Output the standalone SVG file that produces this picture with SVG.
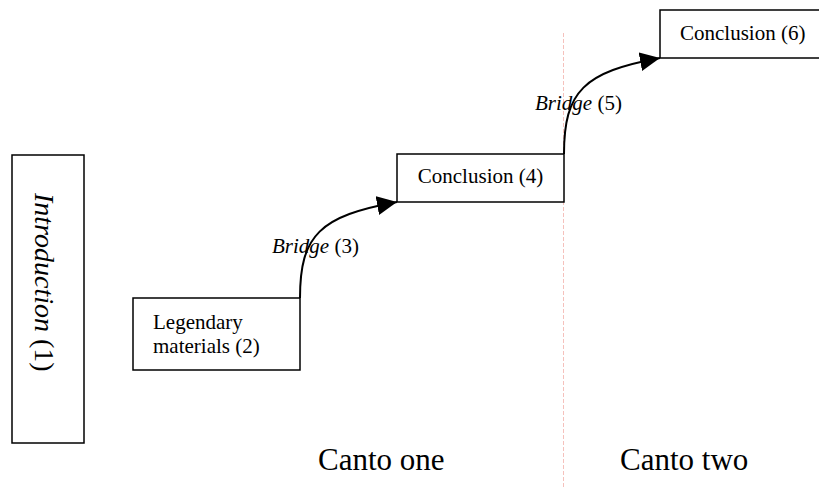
<svg xmlns="http://www.w3.org/2000/svg" width="819" height="489" viewBox="0 0 819 489">
<style>
.box{fill:#fff;stroke:#000;stroke-width:1.5}
text{font-family:'Liberation Serif','Times New Roman','DejaVu Serif',serif;fill:#000}
.edge{fill:none;stroke:#000;stroke-width:2}
</style>
<defs>
<marker id="arr" markerWidth="22" markerHeight="20" refX="20" refY="9.5" orient="auto" markerUnits="userSpaceOnUse">
<path d="M0,0 L20,9.5 L0,19 Z" fill="#000"/>
</marker>
</defs>
<rect width="819" height="489" fill="#fff"/>
<line x1="563.5" y1="33" x2="563.5" y2="489" stroke="#f2a8a0" stroke-width="1" stroke-dasharray="4,2" opacity="0.7"/>
<g id="n1">
<rect class="box" x="12" y="155" width="72" height="288"/>
<text font-family="Liberation Serif, serif" font-size="28" transform="translate(35,193) rotate(90)"><tspan font-style="italic">Introduction</tspan> (1)</text>
</g>
<g id="n2">
<rect class="box" x="133" y="298" width="167" height="72"/>
<text font-family="Liberation Serif, serif" font-size="21" x="153" y="329">Legendary</text>
<text font-family="Liberation Serif, serif" font-size="21" x="153" y="353">materials (2)</text>
</g>
<g id="n4">
<rect class="box" x="397" y="154" width="167" height="48"/>
<text font-family="Liberation Serif, serif" font-size="21" x="480.5" y="183" text-anchor="middle">Conclusion (4)</text>
</g>
<g id="n6">
<rect class="box" x="660" y="10" width="170" height="48"/>
<text font-family="Liberation Serif, serif" font-size="21" x="680" y="40">Conclusion (6)</text>
</g>
<g id="edges">
<path class="edge" d="M300,298 C300,235 320,216 397,202" marker-end="url(#arr)"/>
<path class="edge" d="M564,154 C564,91 584,72 660,58" marker-end="url(#arr)"/>
<text font-family="Liberation Serif, serif" font-size="21" x="272" y="253"><tspan font-style="italic">Bridge</tspan> (3)</text>
<text font-family="Liberation Serif, serif" font-size="21" x="535" y="110"><tspan font-style="italic">Bridge</tspan> (5)</text>
</g>
<text font-family="Liberation Serif, serif" font-size="31" x="318" y="470">Canto one</text>
<text font-family="Liberation Serif, serif" font-size="31" x="620" y="470">Canto two</text>
</svg>
